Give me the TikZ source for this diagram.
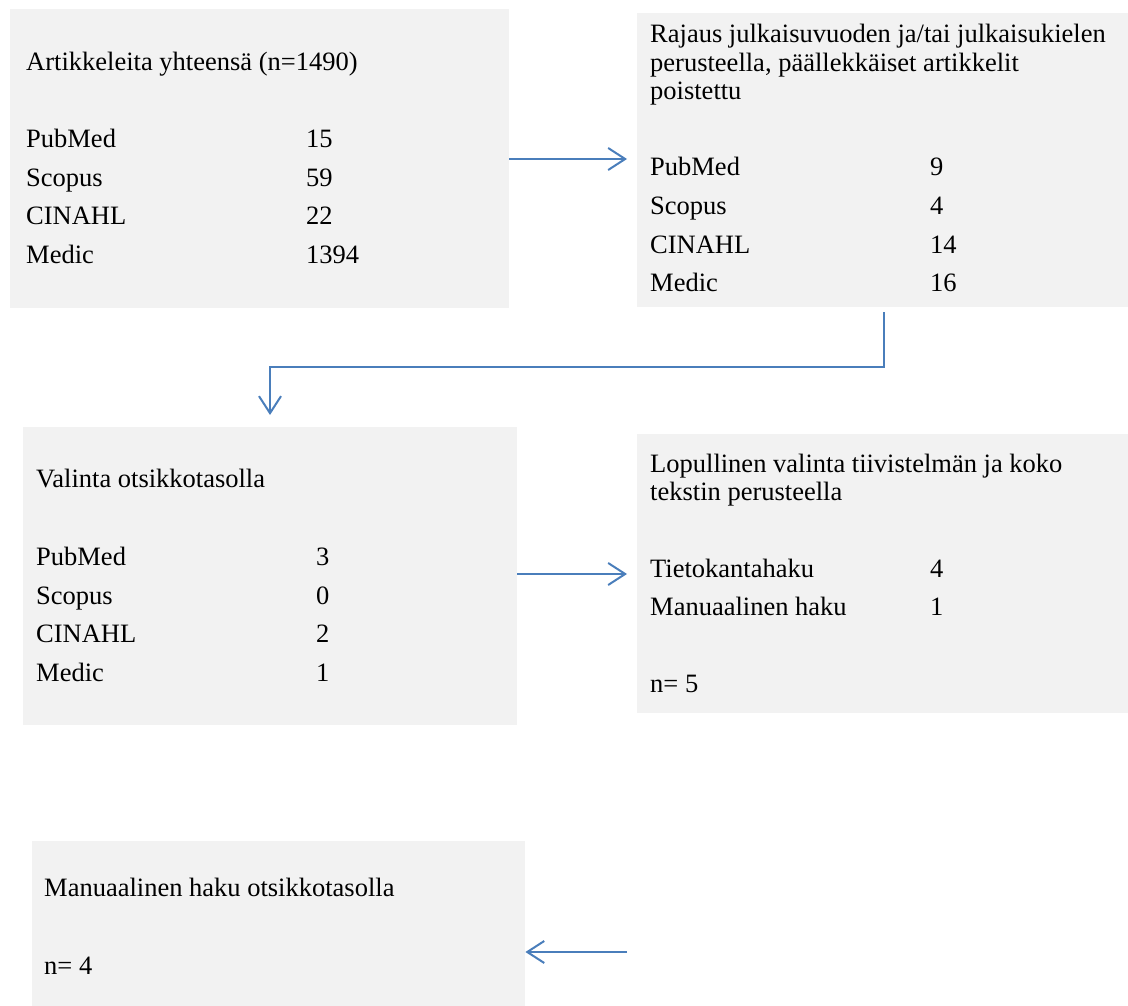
\documentclass[tikz,border=0pt]{standalone}
\usepackage{fontspec}
\setmainfont{Liberation Serif}
\usetikzlibrary{arrows.meta,calc}
\definecolor{boxgray}{HTML}{F2F2F2}
\definecolor{flowblue}{HTML}{4A7EBB}

\begin{document}
\begin{tikzpicture}[x=1pt, y=-1pt,
    box/.style={fill=boxgray, draw=none, inner sep=0pt, anchor=north west},
    txt/.style={anchor=base west, inner sep=0pt, font=\fontsize{26.5}{28.5}\selectfont},
    flow/.style={draw=flowblue, line width=2pt, -{Straight Barb[length=17pt, width=22pt, line width=2pt]}}]
        % --- 1. Parameters ---
        \def\rowstep{38.5}
        \useasboundingbox (0,0) rectangle (1128,1006);

        % --- 2. Boxes ---
        \node[box, minimum width=499pt, minimum height=299pt] (total) at (10,9) {};
        \node[box, minimum width=491pt, minimum height=294pt] (limits) at (637,13) {};
        \node[box, minimum width=494pt, minimum height=298pt] (titles) at (23,427) {};
        \node[box, minimum width=491pt, minimum height=279pt] (final) at (637,434) {};
        \node[box, minimum width=493pt, minimum height=165pt] (manual) at (32,841) {};

        % --- 3. Box texts ---
        % Total
        \node[txt] (total-head) at ($(total.north west)+(16,62)$) {Artikkeleita yhteensä (n=1490)};
        \foreach \db/\num [count=\i] in {PubMed/15, Scopus/59, CINAHL/22, Medic/1394} {
            \node[txt] (total-db-\i) at ($(total.north west)+(16,{139+\rowstep*(\i-1)})$) {\db};
            \node[txt] (total-n-\i) at ($(total.north west)+(296,{139+\rowstep*(\i-1)})$) {\num};
        }

        % Limits
        \node[txt] (limits-head-1) at ($(limits.north west)+(13,30)$) {Rajaus julkaisuvuoden ja/tai julkaisukielen};
        \node[txt] (limits-head-2) at ($(limits.north west)+(13,59)$) {perusteella, päällekkäiset artikkelit};
        \node[txt] (limits-head-3) at ($(limits.north west)+(13,87)$) {poistettu};
        \foreach \db/\num [count=\i] in {PubMed/9, Scopus/4, CINAHL/14, Medic/16} {
            \node[txt] (limits-db-\i) at ($(limits.north west)+(13,{163+\rowstep*(\i-1)})$) {\db};
            \node[txt] (limits-n-\i) at ($(limits.north west)+(293,{163+\rowstep*(\i-1)})$) {\num};
        }

        % Titles
        \node[txt] (titles-head) at ($(titles.north west)+(13,60)$) {Valinta otsikkotasolla};
        \foreach \db/\num [count=\i] in {PubMed/3, Scopus/0, CINAHL/2, Medic/1} {
            \node[txt] (titles-db-\i) at ($(titles.north west)+(13,{138.5+\rowstep*(\i-1)})$) {\db};
            \node[txt] (titles-n-\i) at ($(titles.north west)+(293,{138.5+\rowstep*(\i-1)})$) {\num};
        }

        % Final
        \node[txt] (final-head-1) at ($(final.north west)+(13,38)$) {Lopullinen valinta tiivistelmän ja koko};
        \node[txt] (final-head-2) at ($(final.north west)+(13,66)$) {tekstin perusteella};
        \node[txt] (final-db-1) at ($(final.north west)+(13,143)$) {Tietokantahaku};
        \node[txt] (final-n-1) at ($(final.north west)+(293,143)$) {4};
        \node[txt] (final-db-2) at ($(final.north west)+(13,181)$) {Manuaalinen haku};
        \node[txt] (final-n-2) at ($(final.north west)+(293,181)$) {1};
        \node[txt] (final-sum) at ($(final.north west)+(13,258)$) {n= 5};

        % Manual
        \node[txt] (manual-head) at ($(manual.north west)+(12,55)$) {Manuaalinen haku otsikkotasolla};
        \node[txt] (manual-sum) at ($(manual.north west)+(12,133)$) {n= 4};

        % --- 4. Arrows ---
        \coordinate (a1end) at (627,159);
        \draw[flow] (total.east |- a1end) -- (a1end);

        \coordinate (a2start) at (884,312);
        \coordinate (a2end) at (270,415);
        \draw[flow] (a2start) -- ++(0,55) -| (a2end);

        \coordinate (a3end) at (627,574);
        \draw[flow] (titles.east |- a3end) -- (a3end);

        \coordinate (a4start) at (627,952);
        \draw[flow] (a4start) -- (manual.east |- a4start);
\end{tikzpicture}
\end{document}
